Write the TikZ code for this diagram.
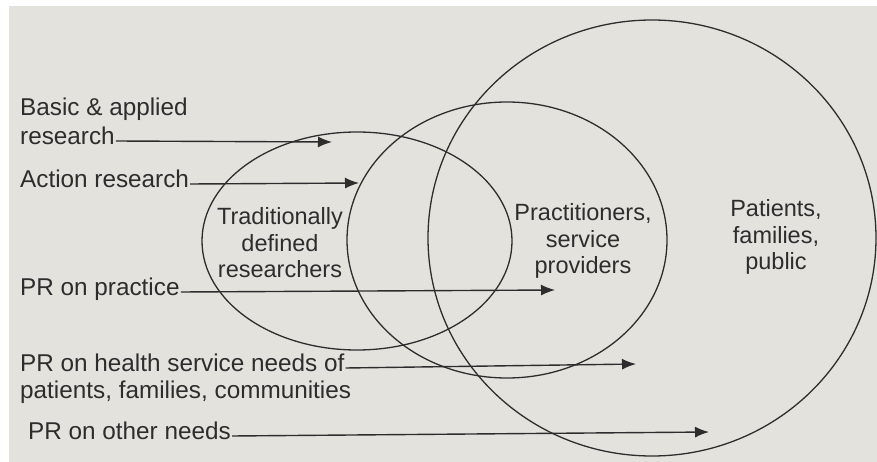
\documentclass[tikz,border=0pt]{standalone}
\usepackage{fontspec}
\setmainfont{Liberation Sans}
\usetikzlibrary{arrows.meta}

\definecolor{paper}{RGB}{228,226,221}
\definecolor{ink}{RGB}{45,45,45}

\begin{document}
\begin{tikzpicture}[x=1pt, y=-1pt,
    every node/.style={text=ink, font=\fontsize{23.5}{26.5}\selectfont},
    ring/.style={draw=ink, line width=1.3pt},
    research/.style={anchor=west, inner sep=1pt, text height=0.72em, text depth=0pt,
        font=\fontsize{24.3}{27}\selectfont},
    group/.style={align=center, inner sep=0pt},
    flow/.style={draw=ink, line width=1.4pt, -{Latex[length=14pt, width=11pt]}}]
    % Page and paper
    \useasboundingbox (0,0) rectangle (877,462);
    \fill[white] (0,0) rectangle (877,462);
    \fill[paper] (9,6) rectangle (877,462);

    % The three groups
    \draw[ring] (357,241) ellipse (155 and 109);
    \draw[ring] (507,240) ellipse (160 and 138);
    \draw[ring] (652,238) ellipse (224 and 218);

    % Group labels
    \node[group] (researchers) at (280,243) {Traditionally\\defined\\researchers};
    \node[group] (providers) at (583,241) {Practitioners,\\service\\providers};
    \node[group] (public) at (776,237) {Patients,\\families,\\public};

    % Kinds of research on the left
    \node[research] (basic) at (19,112) {Basic \& applied};
    \node[research] (basicres) at (19,141) {research};
    \node[research] (action) at (19,184) {Action research};
    \node[research] (practice) at (19,292) {PR on practice};
    \node[research] (needs) at (19,368) {PR on health service needs of};
    \node[research] (needsres) at (19,395) {patients, families, communities};
    \node[research] (other) at (27,436) {PR on other needs};

    % Arrow ends
    \coordinate (basictip) at (332,142);
    \coordinate (actiontip) at (359,183);
    \coordinate (practicetip) at (555,290);
    \coordinate (needstip) at (636,364);
    \coordinate (othertip) at (709,432);

    % Arrows into the groups
    \draw[flow] (basicres.east) -- (basictip);
    \draw[flow] (action.east) -- (actiontip);
    \draw[flow] (practice.east) -- (practicetip);
    \draw[flow] (needs.east) -- (needstip);
    \draw[flow] (other.east) -- (othertip);
\end{tikzpicture}
\end{document}
